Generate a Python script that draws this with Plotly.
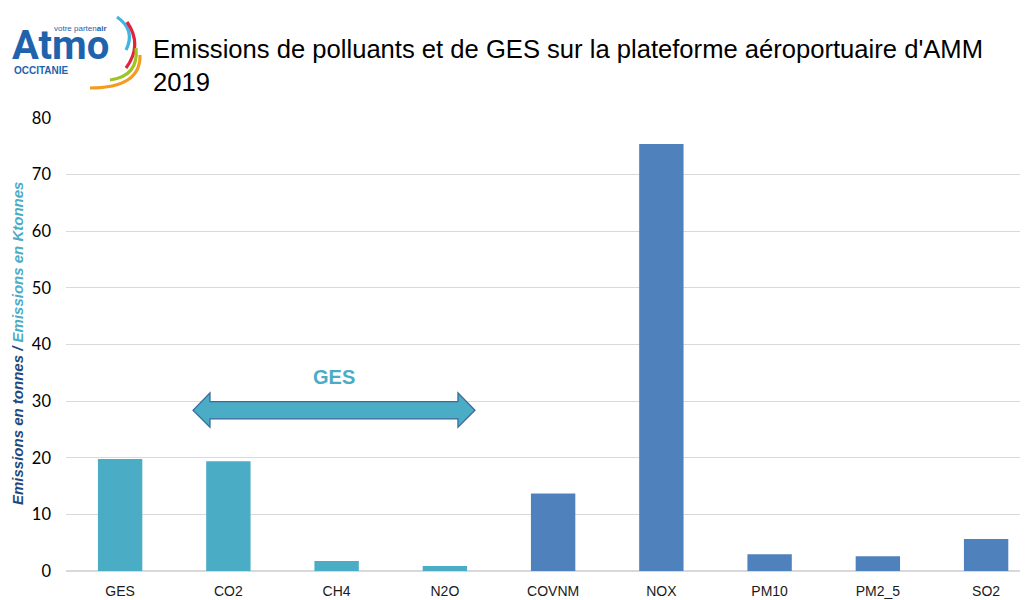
import plotly.graph_objects as go

categories = ["GES", "CO2", "CH4", "N2O", "COVNM", "NOX", "PM10", "PM2_5", "SO2"]
values = [19.8, 19.4, 1.75, 0.9, 13.7, 75.4, 2.95, 2.6, 5.65]
ges_group = ["GES", "CO2", "CH4", "N2O"]
y_ticks = [0, 10, 20, 30, 40, 50, 60, 70, 80]

TEAL = "#4BACC6"
BLUE = "#4F81BD"
colors = [TEAL if c in ges_group else BLUE for c in categories]
SANS = "Liberation Sans, Arial"

OFF = 8  # page body margin
W, H = 1028 - OFF, 600 - OFF
ML, MR, MT, MB = 66 - OFF, 0, 118 - OFF, 29
PW, PH = W - ML - MR, H - MT - MB
XR = [-0.5, 8.387]


def xp(px):
    # window pixel -> paper
    return (px - OFF - ML) / PW


def yp(py):
    return (OFF + H - MB - py) / PH


def ix(i):
    return (i - XR[0]) / (XR[1] - XR[0])


fig = go.Figure()
fig.add_trace(go.Bar(x=categories, y=values, marker=dict(color=colors, line=dict(width=0)),
                     width=0.41, hoverinfo="x+y"))

shapes = []
# double arrow (GES group), positions in category index units / data units
xl_tip, xl_base, xr_base, xr_tip = 0.673, 0.830, 3.121, 3.278
yb_lo, yb_hi, yh_lo, yh_hi = 26.85, 29.9, 25.4, 31.45
ymid = (yb_lo + yb_hi) / 2
pts = [(xl_tip, ymid), (xl_base, yh_hi), (xl_base, yb_hi), (xr_base, yb_hi), (xr_base, yh_hi),
       (xr_tip, ymid), (xr_base, yh_lo), (xr_base, yb_lo), (xl_base, yb_lo), (xl_base, yh_lo)]
path = "M " + " L ".join(f"{ix(a):.5f},{b:.3f}" for a, b in pts) + " Z"
shapes.append(dict(type="path", path=path, xref="paper", yref="y", fillcolor=TEAL,
                   line=dict(color="#3B6A9B", width=1.3), layer="above"))

# logo arcs (window pixel coords -> paper)
arcs = [
    ((117, 17), (136, 30), (126, 50), "#3DB6E6"),
    ((127, 22), (143, 45), (126, 68), "#E2233C"),
    ((136, 48), (139, 76), (110, 80), "#9CC524"),
    ((140, 55), (141, 88), (90, 88), "#F39C1F"),
]
for p0, c, p1, col in arcs:
    d = f"M {xp(p0[0]):.5f},{yp(p0[1]):.5f} Q {xp(c[0]):.5f},{yp(c[1]):.5f} {xp(p1[0]):.5f},{yp(p1[1]):.5f}"
    shapes.append(dict(type="path", path=d, xref="paper", yref="paper",
                       line=dict(color=col, width=3.2)))

annotations = [
    dict(text="Emissions de polluants et de GES sur la plateforme aéroportuaire d'AMM",
         x=xp(151), y=yp(49), xref="paper", yref="paper", xanchor="left", yanchor="middle",
         showarrow=False, font=dict(family=SANS, size=25.6, color="#000000")),
    dict(text="2019", x=xp(151), y=yp(82), xref="paper", yref="paper", xanchor="left",
         yanchor="middle", showarrow=False,
         font=dict(family=SANS, size=25.6, color="#000000")),
    dict(text="<b>Atmo</b>", x=xp(10), y=yp(45), xref="paper", yref="paper", xanchor="left",
         yanchor="middle", showarrow=False,
         font=dict(family="Roboto, Liberation Sans", size=40, color="#1F63AD")),
    dict(text="votre parten<b>air</b>", x=xp(109), y=yp(28), xref="paper", yref="paper",
         xanchor="right", yanchor="middle", showarrow=False,
         font=dict(family=SANS, size=8, color="#1F63AD")),
    dict(text="<b>OCCITANIE</b>", x=xp(12), y=yp(71), xref="paper", yref="paper",
         xanchor="left", yanchor="middle", showarrow=False,
         font=dict(family=SANS, size=10, color="#1F63AD")),
    dict(text="<b>GES</b>", x=ix(1.976), y=34.2,
         xref="paper", yref="y", xanchor="center", yanchor="middle", showarrow=False,
         font=dict(family=SANS, size=20, color=TEAL)),
    dict(text="<b><i><span style='color:#1F497D'>Emissions en tonnes</span> "
              "<span style='color:#1F497D'>/</span> "
              "<span style='color:#4BACC6'>Emissions en Ktonnes</span></i></b>",
         x=xp(17), y=yp(344), xref="paper", yref="paper", xanchor="center", yanchor="middle",
         textangle=-90, showarrow=False, font=dict(family=SANS, size=15)),
]

fig.update_layout(
    width=W, height=H,
    margin=dict(l=ML, r=MR, t=MT, b=MB),
    paper_bgcolor="white", plot_bgcolor="white",
    showlegend=False,
    shapes=shapes,
    annotations=annotations,
    xaxis=dict(type="category", range=XR, showgrid=False, showline=False, ticks="",
               tickfont=dict(family=SANS, size=14, color="#1a1a1a"),
               ticklabelstandoff=10),
    yaxis=dict(range=[0, 80], tickvals=y_ticks, showgrid=True, gridcolor="#D9D9D9",
               gridwidth=1, zeroline=True, zerolinecolor="#D9D9D9", zerolinewidth=1.5,
               showline=False, ticks="", ticklabelstandoff=14,
               tickfont=dict(family="Lato, Open Sans", size=16.5, color="#000000")),
)

fig.write_html("out.html")
